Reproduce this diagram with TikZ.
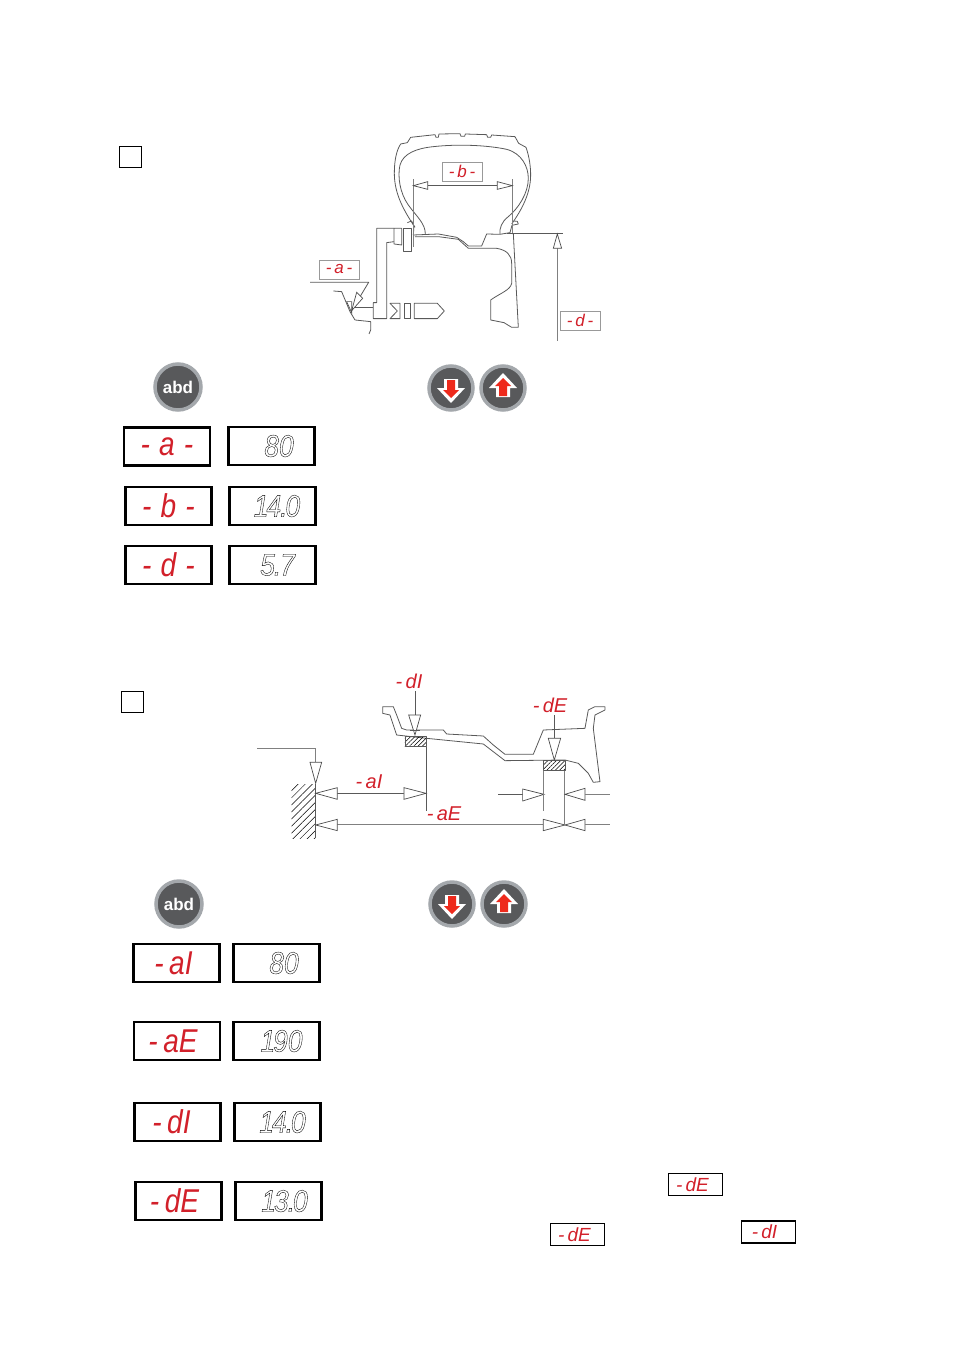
\documentclass[tikz,border=0pt]{standalone}
\usepackage{fontspec}
\usepackage{xcolor}
\usetikzlibrary{patterns.meta}
\setmainfont{Liberation Sans}
\newfontfamily\segfont[FakeStretch=.85]{Liberation Sans}
\definecolor{segred}{HTML}{D2202A}
\definecolor{btnrim}{HTML}{A4A8AC}
\definecolor{btnface}{HTML}{58595B}
\definecolor{btnred}{HTML}{EE2A1C}
\newcommand{\outlined}[1]{\special{pdf:code 1 Tr 0.35 w}#1\special{pdf:code 0 Tr}}
\tikzset{
  redbox/.style={draw=black,line width=2.5pt,fill=white,minimum width=86pt,minimum height=38pt,inner sep=0pt,text=segred,font=\segfont\itshape\fontsize{33}{33}\selectfont},
  valbox/.style={draw=black,line width=2.5pt,fill=white,minimum width=86pt,minimum height=38pt,inner sep=0pt,font=\segfont\itshape\fontsize{31}{31}\selectfont},
  tagbox/.style={draw=black,line width=1.2pt,minimum width=54pt,minimum height=22pt,inner sep=0pt,text=segred,font=\itshape\fontsize{19}{19}\selectfont},
  graybox/.style={draw=black!40,line width=.8pt,fill=white,minimum width=40pt,minimum height=19pt,inner sep=0pt,text=segred,font=\itshape\fontsize{17}{17}\selectfont},
  redlabel/.style={text=segred,inner sep=0pt,font=\itshape\fontsize{20}{20}\selectfont},
  checkbox/.style={draw=black,line width=1pt,minimum width=22pt,minimum height=21pt,inner sep=0pt},
  abdbutton/.style={circle,draw=btnrim,line width=3.5pt,fill=btnface,minimum size=46pt,inner sep=0pt,text=white,font=\bfseries\fontsize{17}{17}\selectfont},
  arrowbutton/.style={circle,draw=btnrim,line width=3.5pt,fill=btnface,minimum size=44pt,inner sep=0pt},
  tirezoom/.style={shift={(300,120)},x=.3333pt,y=-.3333pt},
  rimzoom/.style={shift={(250,665)},x=.3333pt,y=-.3333pt},
  drawline/.style={draw=black!65,line width=.8pt,line join=round},
  dimline/.style={draw=black!50,line width=1pt},
  tip/.style={draw=black!70,line width=.7pt,fill=white},
}
\begin{document}
\begin{tikzpicture}[x=1pt,y=-1pt]
	\useasboundingbox (0,0) rectangle (954,1351);
	
	\node (check1) at (130,157.5) [checkbox] {};
	\node (check2) at (132,701.5) [checkbox] {};
	
	% wheel, first drawing
	\begin{scope}[tirezoom]
		\draw[drawline] (345,322) .. controls (310,270) and (283,220) .. (283,160) .. controls (283,120) and (290,90) .. (302,72) -- (322,68) -- (332,52) -- (405,44) -- (408,52) -- (415,52) -- (417,42) -- (480,41) -- (483,49) -- (494,49) -- (496,42) -- (560,44) -- (563,52) -- (572,52) -- (575,45) -- (645,50) -- (656,70) -- (678,82) .. controls (688,110) and (692,140) .. (692,165) .. controls (692,220) and (665,270) .. (635,312);
		\draw[drawline] (376,342) .. controls (376,310) and (350,290) .. (325,255) .. controls (300,220) and (292,170) .. (300,135) .. controls (310,100) and (350,85) .. (400,80) .. controls (470,72) and (560,75) .. (620,88) .. controls (665,100) and (685,140) .. (685,175) .. controls (685,220) and (655,265) .. (625,290) .. controls (605,305) and (598,325) .. (600,342);
		\draw[drawline] (322,308) -- (335,303) -- (342,318) -- (340,345) -- (415,342) -- (470,352) -- (490,365) -- (505,378) -- (545,378) -- (560,342) -- (600,343) -- (630,338) -- (636,316) -- (655,312) -- (652,304) -- (640,303);
		\draw[drawline] (345,350) -- (415,350) -- (475,358) -- (505,385) -- (590,385) .. controls (620,390) and (635,405) .. (635,430) -- (635,490) .. controls (632,510) and (600,520) .. (572,540) -- (572,600) -- (612,608) -- (635,622) -- (655,622) -- (640,340);
		% gauge arm
		\draw[drawline] (282,325) -- (230,325) -- (230,548) -- (220,548) -- (220,596) -- (260,596) -- (260,368) -- (282,365);
		\draw[drawline] (282,325) -- (305,325) -- (305,375) -- (282,372) -- cycle;
		\draw[drawline] (310,325) rectangle (333,393);
		% slide marks
		\draw[drawline] (270,550) -- (300,550) -- (300,596) -- (270,596) -- (292,573) -- cycle;
		\draw[drawline] (312,550) rectangle (330,596);
		\draw[drawline] (343,550) -- (412,550) -- (433,573) -- (412,596) -- (343,596) -- cycle;
		% body at the gauge
		\draw[drawline] (100,513) -- (125,515) -- (150,575) -- (165,600) -- (212,605) -- (212,630) -- (207,642);
		\draw[drawline] (155,562) -- (220,562);
		\draw[tip] (140,545) -- (155,545) -- (155,578) -- cycle;
		% dimensions
		\draw[dimline] (340,178) -- (340,380);
		\draw[dimline] (637,178) -- (637,340);
		\draw[drawline] (383,197) -- (592,197);
		\draw[tip] (340,197) -- (383,185) -- (383,208) -- cycle;
		\draw[tip] (637,197) -- (592,185) -- (592,208) -- cycle;
		\draw[drawline] (620,340) -- (788,340);
		\draw[dimline] (772,385) -- (772,662);
		\draw[tip] (772,342) -- (760,385) -- (785,385) -- cycle;
		\draw[drawline] (30,487) -- (206,487) -- (155,572);
		\draw[tip] (155,572) -- (170,517) -- (188,535) -- cycle;
	\end{scope}
	
	\node (tagb) at (462,171.5) [graybox] {-\,b\,-};
	\node (taga) at (339,269.5) [graybox] {-\,a\,-};
	\node (tagd) at (580,320.5) [graybox] {-\,d\,-};
	
	% rim, second drawing
	\begin{scope}[rimzoom]
		\draw[drawline] (398,125) -- (430,125) -- (440,150) -- (455,190) -- (470,195) -- (580,195) -- (590,207) -- (700,213) -- (730,240) -- (765,268) -- (850,268) -- (880,195) -- (1005,190) -- (1015,135) -- (1035,125) -- (1065,125) -- (1065,135) -- (1035,150) -- (1030,190) -- (1050,350) -- (1030,352) -- (1015,325) -- (985,295) -- (945,285) -- (765,287) -- (700,237) -- (530,220) -- (440,210) -- (420,150) -- (398,145) -- cycle;
		\draw[drawline,pattern={Lines[angle=45,distance=3pt,line width=.5pt]}] (465,215) rectangle (528,245);
		\draw[drawline,pattern={Lines[angle=45,distance=3pt,line width=.5pt]}] (880,287) rectangle (945,317);
		\fill[pattern={Lines[angle=45,distance=5pt,line width=.5pt]}] (125,358) rectangle (197,520);
		\draw[dimline] (22,252) -- (197,252) -- (197,292);
		\draw[drawline] (197,358) -- (197,520);
		\draw[tip] (180,292) -- (215,292) -- (197,355) -- cycle;
		\draw[drawline] (262,385) -- (462,385);
		\draw[tip] (197,385) -- (262,368) -- (262,403) -- cycle;
		\draw[tip] (528,385) -- (462,368) -- (462,403) -- cycle;
		\draw[drawline] (528,245) -- (528,437);
		\draw[dimline] (262,480) -- (880,480);
		\draw[tip] (197,480) -- (262,463) -- (262,497) -- cycle;
		\draw[tip] (945,480) -- (880,463) -- (880,497) -- cycle;
		\draw[tip] (945,480) -- (1005,463) -- (1005,497) -- cycle;
		\draw[dimline] (1005,480) -- (1080,480);
		\draw[drawline] (745,388) -- (818,388);
		\draw[tip] (882,388) -- (818,372) -- (818,408) -- cycle;
		\draw[dimline] (882,317) -- (882,437);
		\draw[dimline] (945,317) -- (945,480);
		\draw[tip] (945,388) -- (1005,370) -- (1005,406) -- cycle;
		\draw[dimline] (1005,388) -- (1080,388);
		\draw[drawline] (495,78) -- (495,150);
		\draw[tip] (476,150) -- (512,150) -- (495,210) -- cycle;
		\draw[drawline] (480,195) -- (510,195);
		\draw[drawline] (913,150) -- (913,220);
		\draw[tip] (895,220) -- (932,220) -- (913,285) -- cycle;
	\end{scope}
	
	\node (labdi) at (409,681) [redlabel] {-\,dI};
	\node (labde) at (550,705) [redlabel] {-\,dE};
	\node (labai) at (369,782) [redlabel] {-\,aI};
	\node (labae) at (444,814) [redlabel] {-\,aE};
	
	% buttons
	\node (abd1) at (178,387) [abdbutton] {abd};
	\node (abd2) at (179,904) [abdbutton] {abd};
	\foreach \bx/\by/\bs/\bn in {451/388/1/dn1,503/388/-1/up1,452/904/1/dn2,504/904/-1/up2}{
		\node (\bn) at (\bx,\by) [arrowbutton] {};
		\fill[white] (\bx-7,\by-9*\bs) -- (\bx+7,\by-9*\bs) -- (\bx+7,\by) -- (\bx+14,\by) -- (\bx,\by+15*\bs) -- (\bx-14,\by) -- (\bx-7,\by) -- cycle;
		\fill[btnred] (\bx-4,\by-8*\bs) -- (\bx+4,\by-8*\bs) -- (\bx+4,\by+2*\bs) -- (\bx+8,\by+2*\bs) -- (\bx,\by+10*\bs) -- (\bx-8,\by+2*\bs) -- (\bx-4,\by+2*\bs) -- cycle;
	}
	
	% displays, first group
	\node (showa) at (167,446.5) [redbox] {-\;a\;-};
	\node (vala) at (271.5,446) [valbox] {\hspace{15pt}\outlined{80}};
	\node (showb) at (168.5,506) [redbox] {-\;b\;-};
	\node (valb) at (272.5,506) [valbox] {\hspace{9pt}\outlined{1\kern-2pt 4\kern-1pt.\kern-2pt 0}};
	\node (showd) at (168.5,565) [redbox] {-\;d\;-};
	\node (vald) at (272.5,565) [valbox] {\hspace{10pt}\outlined{5\kern-1pt.\kern-1pt 7}};
	
	% displays, second group
	\node (showai) at (176.5,963) [redbox] {\hspace{-6pt}-\,aI};
	\node (valai) at (276.5,963) [valbox] {\hspace{15pt}\outlined{80}};
	\node (showae) at (177,1041) [redbox] {\hspace{-8pt}-\,aE};
	\node (valae) at (276.5,1041) [valbox] {\hspace{10pt}\outlined{1\kern-2pt 90}};
	\node (showdi) at (177.5,1122) [redbox] {\hspace{-12pt}-\,dI};
	\node (valdi) at (277.5,1122) [valbox] {\hspace{10pt}\outlined{1\kern-2pt 4\kern-1pt.\kern-2pt 0}};
	\node (showde) at (178.5,1201) [redbox] {\hspace{-8pt}-\,dE};
	\node (valde) at (278.5,1201) [valbox] {\hspace{12pt}\outlined{1\kern-2pt 3\kern-1pt.\kern-2pt 0}};
	
	\node (tagde1) at (695.5,1184.5) [tagbox] {\hspace{-6pt}-\,dE};
	\node (tagde2) at (577.5,1234.5) [tagbox] {\hspace{-6pt}-\,dE};
	\node (tagdi) at (768.5,1232) [tagbox] {\hspace{-8pt}-\,dI};
\end{tikzpicture}
\end{document}
